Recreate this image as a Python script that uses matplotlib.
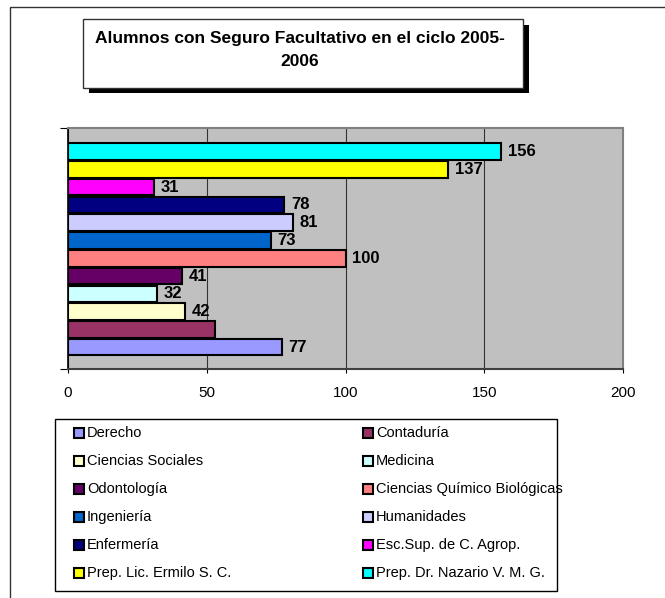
import numpy as np
import matplotlib
matplotlib.use('Agg')
import matplotlib.pyplot as plt
from matplotlib.patches import Rectangle

plt.rcParams['font.family'] = ['Liberation Sans', 'DejaVu Sans']

# DATOS
escuelas = ['Derecho', 'Contaduría', 'Ciencias Sociales', 'Medicina', 'Odontología',
            'Ciencias Químico Biológicas', 'Ingeniería', 'Humanidades', 'Enfermería',
            'Esc.Sup. de C. Agrop.', 'Prep. Lic. Ermilo S. C.', 'Prep. Dr. Nazario V. M. G.']
alumnos = [77, 53, 42, 32, 41, 100, 73, 81, 78, 31, 137, 156]
etiquetas = ['77', '', '42', '32', '41', '100', '73', '81', '78', '31', '137', '156']
colores = ['#9999FF', '#993366', '#FFFFCC', '#CCFFFF', '#660066', '#FF8080',
           '#0066CC', '#CCCCFF', '#000080', '#FF00FF', '#FFFF00', '#00FFFF']
ticks_x = [0, 50, 100, 150, 200]

W, H = 665, 598
fig = plt.figure(figsize=(W / 100, H / 100), dpi=100)

def fx(px):
    return px / W

def fy(py):
    return 1 - py / H

# marco exterior
fig.patches.append(Rectangle((fx(10), fy(700)), 1.2, fy(7) - fy(700), transform=fig.transFigure,
                             fill=False, edgecolor='#333333', lw=1, clip_on=False))

# GRAFICA
ax = fig.add_axes([fx(68), fy(369), fx(623) - fx(68), fy(128) - fy(369)])
ax.set_facecolor('#C0C0C0')
y = np.arange(len(alumnos))
ax.barh(y, alumnos, height=0.93, color=colores, edgecolor='black', linewidth=1.5, zorder=3)
for yi, v, t in zip(y, alumnos, etiquetas):
    if t:
        ax.annotate(t, (v, yi), xytext=(5, 0), textcoords='offset points', va='center', ha='left',
                    fontsize=12, fontweight='bold', zorder=4)

ax.set_xlim(0, 200)
ax.set_ylim(-1.23, 12.33)
ax.set_xticks(ticks_x)
ax.set_xticklabels([str(t) for t in ticks_x], fontsize=11)
ax.set_yticks([-1.23, 12.33])
ax.set_yticklabels([])
ax.tick_params(axis='x', length=3, pad=9, color='black')
ax.tick_params(axis='y', length=6, color='black')
ax.grid(axis='x', color='#333333', lw=0.8, zorder=1)
for s in ['top', 'right']:
    ax.spines[s].set_color('#808080')
    ax.spines[s].set_linewidth(1.5)
ax.spines['bottom'].set_color('#404040')
ax.spines['bottom'].set_linewidth(1.5)
ax.spines['left'].set_color('black')
ax.spines['left'].set_linewidth(1.2)

# TITULO con sombra
fig.patches.append(Rectangle((fx(89), fy(93)), fx(529) - fx(89), fy(25) - fy(93),
                             transform=fig.transFigure, facecolor='black', edgecolor='none'))
fig.patches.append(Rectangle((fx(83), fy(88)), fx(523) - fx(83), fy(19) - fy(88),
                             transform=fig.transFigure, facecolor='white', edgecolor='#333333', lw=1))
fig.text(fx(300), fy(50), 'Alumnos con Seguro Facultativo en el ciclo 2005-\n2006',
         ha='center', va='center', fontsize=12.5, fontweight='bold', linespacing=1.6)

# LEYENDA (2 columnas, por filas)
fig.patches.append(Rectangle((fx(55), fy(591)), fx(557) - fx(55), fy(419) - fy(591),
                             transform=fig.transFigure, facecolor='white', edgecolor='black', lw=1))
for i, (nombre, c) in enumerate(zip(escuelas, colores)):
    fila, col = i // 2, i % 2
    xm = [74, 363][col]
    ym = 433 + 28 * fila
    fig.patches.append(Rectangle((fx(xm), fy(ym + 5)), fx(10), fy(0) - fy(10),
                                 transform=fig.transFigure, facecolor=c, edgecolor='black', lw=1.5))
    fig.text(fx(xm + 13), fy(ym), nombre, ha='left', va='center', fontsize=10.5)

plt.savefig('out.png', dpi=100)
